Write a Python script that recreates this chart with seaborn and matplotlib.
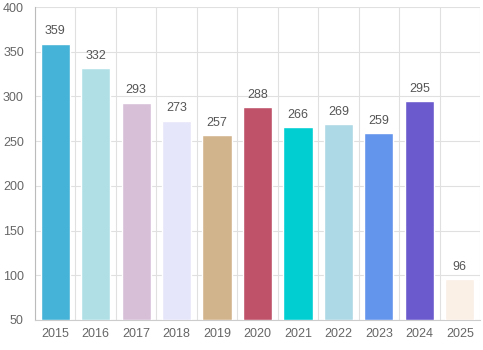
import matplotlib.pyplot as plt
from matplotlib.ticker import FixedLocator
import seaborn as sns
import pandas as pd

years = ['2015', '2016', '2017', '2018', '2019', '2020', '2021', '2022', '2023', '2024', '2025']
counts = [359, 332, 293, 273, 257, 288, 266, 269, 259, 295, 96]
bar_colors = ['#45b3d7', '#b0e0e6', '#d8bfd8', '#e6e6fa', '#d2b48c', '#bf5269',
              '#00ced1', '#add8e6', '#6495ed', '#6a5acd', '#faf0e6']
y_ticks = [50, 100, 150, 200, 250, 300, 350, 400]

df = pd.DataFrame({'year': years, 'count': counts})

sns.set_style('white')
plt.rcParams['font.family'] = ['Liberation Sans', 'DejaVu Sans']

fig = plt.figure(figsize=(4.83, 3.5), dpi=100)
ax = fig.add_axes([35 / 483, 30 / 350, 445 / 483, 313 / 350])

sns.barplot(data=df, x='year', y='count', hue='year', palette=bar_colors,
            saturation=1, legend=False, width=0.72, ax=ax, zorder=3)

# bars start at the bottom of the axis (50)
for patch, v in zip(ax.patches, counts):
    patch.set_y(50)
    patch.set_height(v - 50)

for i, v in enumerate(counts):
    ax.text(i, v + 7, str(v), ha='center', va='bottom', fontsize=9, color='#555555')

ax.set_ylim(50, 400)
ax.set_xlim(-0.5, len(years) - 0.5)
ax.set_yticks(y_ticks)
ax.xaxis.set_minor_locator(FixedLocator([i - 0.5 for i in range(len(years) + 1)]))
ax.grid(axis='y', color='#e0e0e0', linewidth=0.8, zorder=0)
ax.grid(axis='x', which='minor', color='#e0e0e0', linewidth=0.8, zorder=0)
ax.set_axisbelow(True)

ax.tick_params(axis='x', which='major', length=0, labelsize=9, labelcolor='#666666', pad=6)
ax.tick_params(axis='x', which='minor', length=7, color='#e0e0e0', width=0.8)
ax.tick_params(axis='y', length=5, color='#e0e0e0', width=0.8, labelsize=9,
               labelcolor='#666666', pad=3)

for side in ['top', 'right']:
    ax.spines[side].set_visible(False)
ax.spines['left'].set_color('#bbbbbb')
ax.spines['bottom'].set_color('#cccccc')
ax.spines['left'].set_linewidth(0.8)
ax.spines['bottom'].set_linewidth(0.8)

ax.set_xlabel('')
ax.set_ylabel('')

fig.savefig('out.png', dpi=100)
